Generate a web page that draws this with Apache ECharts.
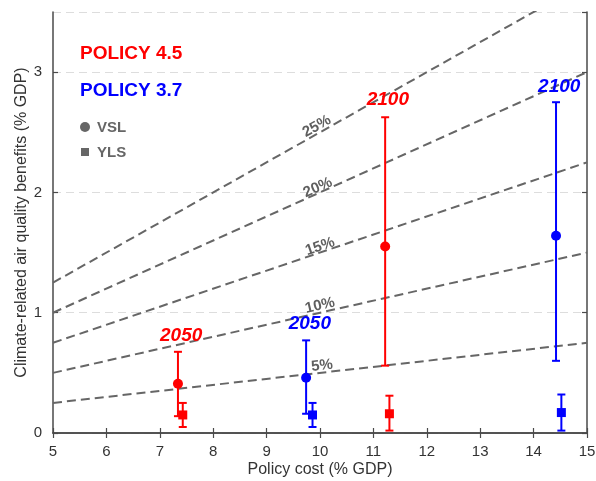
<!DOCTYPE html>
<html>
<head>
<meta charset="utf-8">
<script src="https://cdn.jsdelivr.net/npm/echarts@6/dist/echarts.min.js"></script>
<style>
  html, body { margin: 0; padding: 0; background: #fff; }
  #chart { width: 596px; height: 481px; }
</style>
</head>
<body>
<div id="chart"></div>
<script>
// points: [cost, benefit, low, high]
const policy45Vsl = [[7.34, 0.41, 0.14, 0.675], [11.22, 1.55, 0.56, 2.625]]
const policy45Yls = [[7.43, 0.15, 0.05, 0.25], [11.30, 0.16, 0.02, 0.31]]
const policy37Vsl = [[9.74, 0.46, 0.16, 0.77], [14.42, 1.64, 0.60, 2.75]]
const policy37Yls = [[9.86, 0.15, 0.05, 0.25], [14.52, 0.17, 0.02, 0.32]]

// year labels: [text, cost, benefit]
const years45 = [['2050', 7.40, 0.81], ['2100', 11.27, 2.77]]
const years37 = [['2050', 9.81, 0.91], ['2100', 14.48, 2.88]]

// benefit/cost ratio lines
const shareNames = ['5%', '10%', '15%', '20%', '25%']
const shareEnds = [
  [[5, 0.25], [15, 0.75]],
  [[5, 0.5], [15, 1.5]],
  [[5, 0.75], [15, 2.25]],
  [[5, 1.0], [15, 3.0]],
  [[5, 1.25], [15, 3.75]],
]
const shareLabelPos = [[10.04, 0.56], [10.0, 1.06], [10.0, 1.55], [9.96, 2.04], [9.94, 2.55]]
const shareLabelRot = [6.5, 13, 19, 24, 29]

const xTicks = { min: 5, max: 15, interval: 1 }
const yTicks = { min: 0, max: 3.5, interval: 1 }

const RED = '#ff0000'
const BLUE = '#0000ff'
const GRAY = '#666666'
const FONT = '"Liberation Sans", Arial, sans-serif'

const chart = echarts.init(document.getElementById('chart'))

const errorBars = (data, color) => ({
  type: 'custom',
  data: data,
  encode: { x: 0, y: [2, 3] },
  z: 5,
  renderItem: (params, api) => {
    const x = api.value(0)
    const lo = api.coord([x, api.value(2)])
    const hi = api.coord([x, api.value(3)])
    const w = 4
    const style = { stroke: color, lineWidth: 2 }
    return {
      type: 'group',
      children: [
        { type: 'line', shape: { x1: lo[0], y1: lo[1], x2: hi[0], y2: hi[1] }, style },
        { type: 'line', shape: { x1: lo[0] - w, y1: lo[1], x2: lo[0] + w, y2: lo[1] }, style },
        { type: 'line', shape: { x1: hi[0] - w, y1: hi[1], x2: hi[0] + w, y2: hi[1] }, style },
      ],
    }
  },
})

const points = (data, color, symbol, size) => ({
  type: 'scatter',
  data: data.map((d) => [d[0], d[1]]),
  symbol: symbol,
  symbolSize: size,
  itemStyle: { color: color, opacity: 1 },
  z: 6,
})

const textSeries = (data, z, label) => ({
  type: 'scatter',
  data: data,
  symbolSize: 0,
  silent: true,
  z: z,
  itemStyle: { opacity: 1 },
  label: { show: true, position: 'inside', opacity: 1, formatter: (p) => p.name, ...label },
})

const yearText = (data, color) =>
  textSeries(data.map((d) => ({ value: [d[1], d[2]], name: d[0] })), 7, {
    color: color,
    fontFamily: FONT,
    fontSize: 19,
    fontWeight: 'bold',
    fontStyle: 'italic',
  })

const shareSeries = shareEnds.map((ends) => ({
  type: 'line',
  data: ends,
  symbol: 'none',
  clip: true,
  silent: true,
  lineStyle: { color: GRAY, width: 2, type: [9, 5] },
  z: 2,
}))

const shareLabels = shareNames.map((name, i) =>
  textSeries([{ value: shareLabelPos[i], name: name }], 3, {
    rotate: shareLabelRot[i],
    color: '#5f5f5f',
    fontFamily: FONT,
    fontSize: 15,
    fontWeight: 'bold',
  })
)

const axisLine = { show: true, lineStyle: { color: '#4a4a4a', width: 1.5 } }
const axisTick = { show: true, inside: true, length: 5, lineStyle: { color: '#4a4a4a', width: 1.2 } }
const labelStyle = { color: '#333', fontFamily: FONT, fontSize: 15 }

const option = {
  animation: false,
  backgroundColor: '#fff',
  grid: { left: 53, right: 9, top: 12, bottom: 48, outerBoundsMode: 'none', containLabel: false },
  xAxis: [
    {
      type: 'value', ...xTicks, position: 'bottom',
      axisLine, axisTick,
      axisLabel: { ...labelStyle, margin: 11 },
      splitLine: { show: false },
      name: 'Policy cost (% GDP)', nameLocation: 'middle', nameGap: 29, nameMoveOverlap: false,
      nameTextStyle: { color: '#333', fontFamily: FONT, fontSize: 16 },
    },
    {
      type: 'value', ...xTicks, position: 'top',
      axisLine, axisTick, axisLabel: { show: false }, splitLine: { show: false },
    },
  ],
  yAxis: [
    {
      type: 'value', ...yTicks, position: 'left',
      axisLine, axisTick,
      axisLabel: { ...labelStyle, margin: 11, showMaxLabel: false },
      splitLine: { show: true, lineStyle: { color: '#dddddd', width: 1, type: [8, 5] } },
      name: 'Climate-related air quality benefits (% GDP)', nameLocation: 'middle', nameGap: 23,
      nameMoveOverlap: false,
      nameTextStyle: { color: '#333', fontFamily: FONT, fontSize: 16 },
    },
    {
      type: 'value', ...yTicks, position: 'right',
      axisLine, axisTick, axisLabel: { show: false }, splitLine: { show: false },
    },
  ],
  graphic: [
    { type: 'text', left: 80, top: 44, style: { text: 'POLICY 4.5', fill: RED, font: 'bold 19px ' + FONT } },
    { type: 'text', left: 80, top: 81, style: { text: 'POLICY 3.7', fill: BLUE, font: 'bold 19px ' + FONT } },
    { type: 'circle', shape: { cx: 85, cy: 127, r: 5 }, style: { fill: GRAY } },
    { type: 'text', left: 97, top: 120, style: { text: 'VSL', fill: GRAY, font: 'bold 15px ' + FONT } },
    { type: 'rect', shape: { x: 81, y: 148, width: 8, height: 8 }, style: { fill: GRAY } },
    { type: 'text', left: 97, top: 145, style: { text: 'YLS', fill: GRAY, font: 'bold 15px ' + FONT } },
  ],
  series: [
    ...shareSeries,
    ...shareLabels,
    errorBars(policy45Vsl, RED),
    errorBars(policy45Yls, RED),
    errorBars(policy37Vsl, BLUE),
    errorBars(policy37Yls, BLUE),
    points(policy45Vsl, RED, 'circle', 10),
    points(policy45Yls, RED, 'rect', 9),
    points(policy37Vsl, BLUE, 'circle', 10),
    points(policy37Yls, BLUE, 'rect', 9),
    yearText(years45, RED),
    yearText(years37, BLUE),
  ],
}

chart.setOption(option)
</script>
</body>
</html>
